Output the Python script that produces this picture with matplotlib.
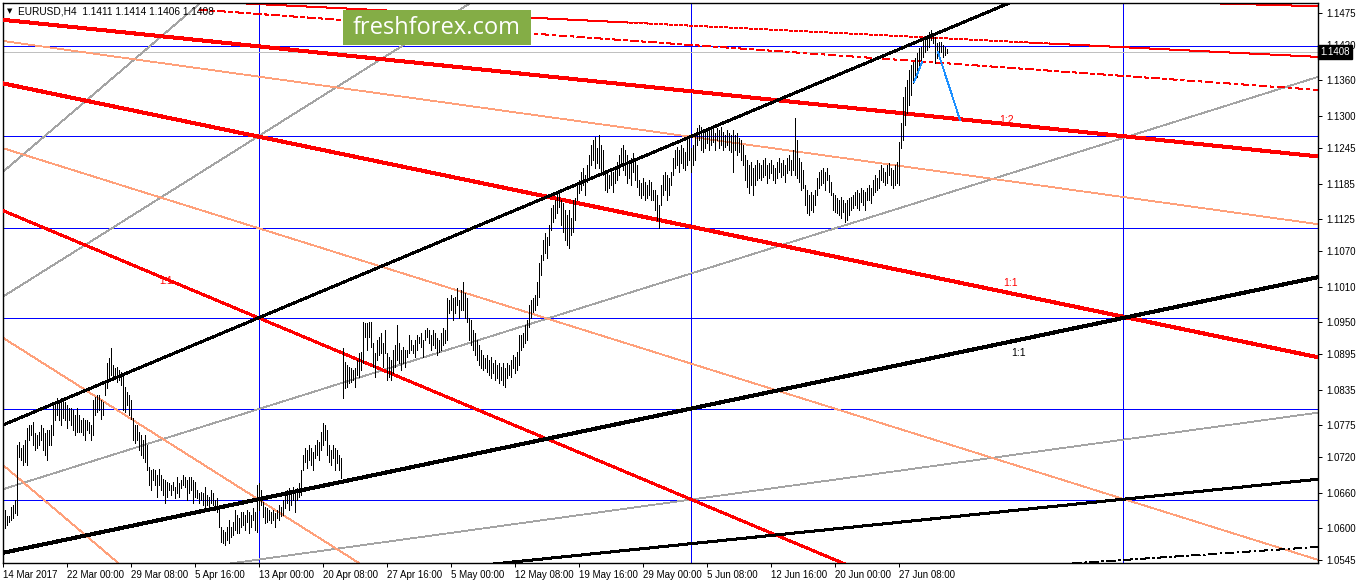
import numpy as np
import matplotlib
matplotlib.use("Agg")
import matplotlib.pyplot as plt
from matplotlib.patches import Rectangle

# EURUSD H4 bars, one value per bar (high / low)
highs = [
    1.0630, 1.0621, 1.0621, 1.0635, 1.0639, 1.0648, 1.0741, 1.0746, 1.0736, 1.0741,
    1.0750, 1.0770, 1.0775, 1.0775, 1.0780, 1.0762, 1.0758, 1.0763, 1.0775, 1.0770,
    1.0762, 1.0767, 1.0767, 1.0775, 1.0809, 1.0814, 1.0821, 1.0818, 1.0821, 1.0818,
    1.0814, 1.0809, 1.0804, 1.0804, 1.0801, 1.0792, 1.0804, 1.0792, 1.0784, 1.0787,
    1.0784, 1.0784, 1.0780, 1.0775, 1.0818, 1.0823, 1.0826, 1.0826, 1.0817, 1.0814,
    1.0848, 1.0880, 1.0888, 1.0905, 1.0877, 1.0872, 1.0874, 1.0868, 1.0865, 1.0860,
    1.0839, 1.0831, 1.0826, 1.0817, 1.0787, 1.0775, 1.0775, 1.0763, 1.0758, 1.0749,
    1.0758, 1.0741, 1.0704, 1.0698, 1.0701, 1.0698, 1.0690, 1.0701, 1.0690, 1.0684,
    1.0681, 1.0678, 1.0676, 1.0673, 1.0678, 1.0669, 1.0686, 1.0676, 1.0681, 1.0690,
    1.0686, 1.0681, 1.0686, 1.0686, 1.0681, 1.0678, 1.0664, 1.0659, 1.0661, 1.0659,
    1.0669, 1.0656, 1.0652, 1.0664, 1.0659, 1.0647, 1.0651, 1.0630, 1.0601, 1.0596,
    1.0593, 1.0601, 1.0613, 1.0601, 1.0610, 1.0630, 1.0622, 1.0617, 1.0627, 1.0627,
    1.0622, 1.0630, 1.0627, 1.0622, 1.0634, 1.0627, 1.0673, 1.0676, 1.0664, 1.0644,
    1.0635, 1.0634, 1.0630, 1.0627, 1.0630, 1.0625, 1.0630, 1.0639, 1.0635, 1.0647,
    1.0656, 1.0664, 1.0668, 1.0661, 1.0669, 1.0664, 1.0668, 1.0676, 1.0698, 1.0724,
    1.0736, 1.0733, 1.0741, 1.0736, 1.0729, 1.0741, 1.0749, 1.0746, 1.0763, 1.0778,
    1.0775, 1.0766, 1.0741, 1.0733, 1.0741, 1.0736, 1.0733, 1.0724, 1.0719, 1.0905,
    1.0882, 1.0877, 1.0874, 1.0872, 1.0868, 1.0872, 1.0885, 1.0897, 1.0899, 1.0950,
    1.0948, 1.0948, 1.0950, 1.0950, 1.0914, 1.0897, 1.0919, 1.0924, 1.0931, 1.0914,
    1.0936, 1.0897, 1.0890, 1.0885, 1.0902, 1.0911, 1.0945, 1.0914, 1.0902, 1.0907,
    1.0902, 1.0902, 1.0928, 1.0919, 1.0911, 1.0919, 1.0928, 1.0924, 1.0931, 1.0919,
    1.0936, 1.0940, 1.0936, 1.0928, 1.0936, 1.0931, 1.0923, 1.0919, 1.0931, 1.0940,
    1.0936, 1.0991, 1.0987, 1.0996, 1.0991, 1.0993, 1.1008, 1.0987, 1.1004, 1.1018,
    1.0999, 1.0991, 1.0957, 1.0953, 1.0936, 1.0931, 1.0919, 1.0911, 1.0902, 1.0894,
    1.0888, 1.0894, 1.0885, 1.0890, 1.0880, 1.0885, 1.0877, 1.0880, 1.0874, 1.0880,
    1.0872, 1.0880, 1.0877, 1.0885, 1.0894, 1.0890, 1.0899, 1.0928, 1.0928, 1.0931,
    1.0945, 1.0953, 1.0979, 1.0987, 1.0991, 1.0996, 1.1018, 1.1050, 1.1063, 1.1089,
    1.1101, 1.1094, 1.1114, 1.1143, 1.1148, 1.1157, 1.1169, 1.1170, 1.1157, 1.1152,
    1.1140, 1.1131, 1.1140, 1.1126, 1.1157, 1.1160, 1.1183, 1.1191, 1.1205, 1.1211,
    1.1200, 1.1217, 1.1234, 1.1251, 1.1259, 1.1264, 1.1245, 1.1267, 1.1251, 1.1242,
    1.1208, 1.1205, 1.1200, 1.1211, 1.1205, 1.1208, 1.1222, 1.1234, 1.1245, 1.1251,
    1.1242, 1.1234, 1.1225, 1.1228, 1.1237, 1.1225, 1.1217, 1.1191, 1.1186, 1.1194,
    1.1188, 1.1183, 1.1191, 1.1188, 1.1174, 1.1174, 1.1166, 1.1148, 1.1183, 1.1200,
    1.1205, 1.1200, 1.1194, 1.1205, 1.1228, 1.1242, 1.1247, 1.1242, 1.1251, 1.1245,
    1.1239, 1.1259, 1.1262, 1.1245, 1.1251, 1.1267, 1.1279, 1.1284, 1.1281, 1.1276,
    1.1273, 1.1279, 1.1276, 1.1276, 1.1281, 1.1271, 1.1279, 1.1276, 1.1281, 1.1273,
    1.1267, 1.1276, 1.1271, 1.1267, 1.1276, 1.1267, 1.1271, 1.1262, 1.1259, 1.1251,
    1.1234, 1.1225, 1.1217, 1.1222, 1.1211, 1.1217, 1.1225, 1.1220, 1.1217, 1.1225,
    1.1228, 1.1217, 1.1220, 1.1225, 1.1217, 1.1211, 1.1222, 1.1228, 1.1220, 1.1225,
    1.1217, 1.1228, 1.1234, 1.1225, 1.1242, 1.1296, 1.1259, 1.1228, 1.1222, 1.1208,
    1.1183, 1.1174, 1.1166, 1.1170, 1.1166, 1.1174, 1.1194, 1.1205, 1.1208, 1.1211,
    1.1205, 1.1211, 1.1200, 1.1188, 1.1169, 1.1166, 1.1160, 1.1157, 1.1162, 1.1157,
    1.1152, 1.1157, 1.1160, 1.1162, 1.1166, 1.1170, 1.1174, 1.1169, 1.1177, 1.1174,
    1.1170, 1.1177, 1.1183, 1.1177, 1.1191, 1.1200, 1.1194, 1.1208, 1.1217, 1.1211,
    1.1205, 1.1217, 1.1220, 1.1211, 1.1208, 1.1217, 1.1222, 1.1256, 1.1288, 1.1332,
    1.1349, 1.1361, 1.1378, 1.1386, 1.1392, 1.1398, 1.1407, 1.1415, 1.1417, 1.1429,
    1.1434, 1.1437, 1.1443, 1.1446, 1.1441, 1.1434, 1.1424, 1.1425, 1.1425, 1.1420,
    1.1417, 1.1414,
]
lows = [
    1.0600, 1.0605, 1.0610, 1.0613, 1.0617, 1.0626, 1.0622, 1.0721, 1.0716, 1.0707,
    1.0712, 1.0707, 1.0750, 1.0758, 1.0741, 1.0733, 1.0736, 1.0741, 1.0750, 1.0733,
    1.0724, 1.0716, 1.0741, 1.0741, 1.0758, 1.0784, 1.0792, 1.0784, 1.0775, 1.0787,
    1.0784, 1.0770, 1.0784, 1.0775, 1.0767, 1.0758, 1.0763, 1.0763, 1.0763, 1.0758,
    1.0750, 1.0767, 1.0762, 1.0750, 1.0758, 1.0792, 1.0797, 1.0801, 1.0786, 1.0792,
    1.0826, 1.0838, 1.0855, 1.0860, 1.0851, 1.0855, 1.0848, 1.0851, 1.0843, 1.0800,
    1.0797, 1.0809, 1.0792, 1.0786, 1.0749, 1.0745, 1.0749, 1.0732, 1.0724, 1.0719,
    1.0712, 1.0698, 1.0673, 1.0664, 1.0681, 1.0673, 1.0652, 1.0673, 1.0664, 1.0656,
    1.0643, 1.0653, 1.0664, 1.0656, 1.0664, 1.0651, 1.0659, 1.0653, 1.0668, 1.0673,
    1.0670, 1.0647, 1.0659, 1.0664, 1.0642, 1.0653, 1.0651, 1.0642, 1.0647, 1.0639,
    1.0630, 1.0639, 1.0634, 1.0642, 1.0639, 1.0630, 1.0627, 1.0601, 1.0576, 1.0574,
    1.0571, 1.0579, 1.0574, 1.0585, 1.0588, 1.0596, 1.0591, 1.0591, 1.0601, 1.0605,
    1.0596, 1.0610, 1.0591, 1.0601, 1.0613, 1.0596, 1.0593, 1.0630, 1.0639, 1.0619,
    1.0608, 1.0610, 1.0613, 1.0608, 1.0613, 1.0601, 1.0617, 1.0613, 1.0620, 1.0622,
    1.0634, 1.0642, 1.0630, 1.0639, 1.0647, 1.0627, 1.0647, 1.0653, 1.0656, 1.0698,
    1.0712, 1.0702, 1.0715, 1.0707, 1.0698, 1.0719, 1.0724, 1.0715, 1.0733, 1.0741,
    1.0749, 1.0724, 1.0712, 1.0707, 1.0719, 1.0698, 1.0710, 1.0698, 1.0685, 1.0820,
    1.0838, 1.0840, 1.0846, 1.0848, 1.0851, 1.0840, 1.0860, 1.0857, 1.0868, 1.0880,
    1.0924, 1.0902, 1.0924, 1.0907, 1.0874, 1.0857, 1.0885, 1.0894, 1.0897, 1.0874,
    1.0897, 1.0851, 1.0857, 1.0851, 1.0863, 1.0874, 1.0885, 1.0880, 1.0868, 1.0880,
    1.0874, 1.0890, 1.0897, 1.0902, 1.0897, 1.0890, 1.0902, 1.0914, 1.0907, 1.0890,
    1.0919, 1.0924, 1.0914, 1.0902, 1.0911, 1.0905, 1.0894, 1.0899, 1.0902, 1.0911,
    1.0914, 1.0919, 1.0965, 1.0970, 1.0953, 1.0965, 1.0979, 1.0957, 1.0970, 1.0970,
    1.0957, 1.0950, 1.0919, 1.0911, 1.0902, 1.0894, 1.0885, 1.0877, 1.0872, 1.0868,
    1.0872, 1.0865, 1.0860, 1.0855, 1.0863, 1.0851, 1.0855, 1.0846, 1.0851, 1.0843,
    1.0840, 1.0855, 1.0860, 1.0857, 1.0872, 1.0863, 1.0868, 1.0877, 1.0902, 1.0907,
    1.0914, 1.0919, 1.0941, 1.0957, 1.0967, 1.0970, 1.0979, 1.0993, 1.1029, 1.1055,
    1.1067, 1.1058, 1.1080, 1.1106, 1.1119, 1.1126, 1.1135, 1.1145, 1.1114, 1.1103,
    1.1089, 1.1080, 1.1075, 1.1097, 1.1103, 1.1123, 1.1157, 1.1169, 1.1174, 1.1183,
    1.1166, 1.1188, 1.1194, 1.1217, 1.1225, 1.1211, 1.1220, 1.1211, 1.1205, 1.1200,
    1.1174, 1.1171, 1.1177, 1.1183, 1.1171, 1.1186, 1.1191, 1.1200, 1.1217, 1.1208,
    1.1200, 1.1186, 1.1194, 1.1183, 1.1205, 1.1191, 1.1179, 1.1166, 1.1160, 1.1166,
    1.1157, 1.1160, 1.1166, 1.1157, 1.1157, 1.1140, 1.1123, 1.1109, 1.1148, 1.1166,
    1.1174, 1.1157, 1.1166, 1.1183, 1.1200, 1.1211, 1.1217, 1.1205, 1.1220, 1.1211,
    1.1208, 1.1217, 1.1225, 1.1205, 1.1217, 1.1225, 1.1251, 1.1259, 1.1242, 1.1239,
    1.1245, 1.1254, 1.1242, 1.1251, 1.1256, 1.1242, 1.1259, 1.1245, 1.1251, 1.1242,
    1.1247, 1.1251, 1.1242, 1.1239, 1.1205, 1.1242, 1.1234, 1.1239, 1.1225, 1.1217,
    1.1191, 1.1179, 1.1169, 1.1183, 1.1166, 1.1183, 1.1191, 1.1194, 1.1191, 1.1196,
    1.1200, 1.1186, 1.1194, 1.1203, 1.1191, 1.1186, 1.1194, 1.1205, 1.1196, 1.1200,
    1.1188, 1.1203, 1.1208, 1.1200, 1.1208, 1.1200, 1.1194, 1.1188, 1.1174, 1.1177,
    1.1148, 1.1135, 1.1131, 1.1140, 1.1137, 1.1148, 1.1166, 1.1177, 1.1183, 1.1186,
    1.1174, 1.1191, 1.1171, 1.1166, 1.1140, 1.1137, 1.1135, 1.1131, 1.1126, 1.1137,
    1.1119, 1.1123, 1.1131, 1.1140, 1.1143, 1.1148, 1.1143, 1.1140, 1.1154, 1.1148,
    1.1140, 1.1157, 1.1157, 1.1152, 1.1166, 1.1171, 1.1174, 1.1177, 1.1191, 1.1188,
    1.1183, 1.1186, 1.1200, 1.1183, 1.1177, 1.1183, 1.1186, 1.1183, 1.1245, 1.1259,
    1.1284, 1.1305, 1.1319, 1.1336, 1.1356, 1.1361, 1.1366, 1.1381, 1.1390, 1.1400,
    1.1408, 1.1412, 1.1417, 1.1429, 1.1424, 1.1390, 1.1398, 1.1407, 1.1409, 1.1400,
    1.1403, 1.1406,
]

# time axis: bar index of each label
tick_bars = [-1, 31, 63, 95, 127, 159, 191, 223, 255, 287, 319, 351, 383, 415, 447]
tick_labels = ["14 Mar 2017", "22 Mar 00:00", "29 Mar 08:00", "5 Apr 16:00",
               "13 Apr 00:00", "20 Apr 08:00", "27 Apr 16:00", "5 May 00:00",
               "12 May 08:00", "19 May 16:00", "29 May 00:00", "5 Jun 08:00",
               "12 Jun 16:00", "20 Jun 00:00", "27 Jun 08:00"]

# price axis labels
price_ticks = [1.1475, 1.1420, 1.1360, 1.1300, 1.1245, 1.1185, 1.1125, 1.1070,
               1.1010, 1.0950, 1.0895, 1.0835, 1.0775, 1.0720, 1.0660, 1.0600, 1.0545]

# blue horizontal levels and vertical time lines
levels = [1.1418, 1.1265, 1.1109, 1.0956, 1.0802, 1.0647]
time_lines = [127, 343.25, 559]
bid = 1.1408

# trend lines as (bar1, price1, bar2, price2)
red_thick = [(-1, 1.1463, 656.5, 1.1231), (-1, 1.1355, 656.5, 1.0890)]
red_mid = [(-1, 1.1139, 343.5, 1.0648)]
salmon = [(-1, 1.1427, 656.5, 1.1116), (-1, 1.1245, 656.5, 1.0546),
          (-1, 1.0923, 127, 1.0648), (-1, 1.0707, 56.5, 1.0541)]
gray = [(-1, 1.1205, 97.5, 1.1491), (-1, 1.0993, 232.5, 1.1491),
        (-1, 1.0666, 656.5, 1.1366), (115, 1.0541, 656.5, 1.0796)]
black_thick = [(-1, 1.0558, 656.5, 1.1026)]
black_mid = [(-1, 1.0775, 502.5, 1.1492), (250, 1.0541, 656.5, 1.0683)]
black_dashdot = [(538, 1.0541, 656.5, 1.0568)]
red_dot = [(112.5, 1.1492, 656.5, 1.1400)]
red_dashdot = [(97.5, 1.1480, 656.5, 1.1344)]
red_thin = [(572.5, 1.1494, 656.5, 1.1486)]
swing_bars = [[454.5, 458.5], [466.5, 477.5]]
swing_prices = [[1.1357, 1.1391], [1.1408, 1.1293]]

XL, XR = -1, 656.5
YB, YT = 1.05407, 1.14915
PX = 0.72  # one screen pixel in points
THIN = 0.6

plt.rcParams['lines.antialiased'] = False
fam = ['Liberation Sans', 'DejaVu Sans']

fig = plt.figure(figsize=(13.58, 5.84), dpi=100)
ax = fig.add_axes([3/1358, 21/584, 1315/1358, 560/584])


def draw(segs, both=True, **kw):
    for b1, p1, b2, p2 in segs:
        k = (p2 - p1) / (b2 - b1)
        xs = np.array([XL if both else b1, XR])
        ax.plot(xs, p1 + k*(xs - b1), solid_capstyle='butt', **kw)


for lv in levels:
    ax.axhline(lv, color='#0000ff', lw=THIN, zorder=1)
for t in time_lines:
    ax.axvline(t, color='#0000ff', lw=THIN, zorder=1)
ax.axhline(bid, color='#c0c0c0', lw=THIN, zorder=1)

draw(gray, color='#a4a4a4', lw=THIN, zorder=2)
draw(salmon, color='#ffa07a', lw=THIN, zorder=2)
draw(red_dot, both=False, color='#ff0000', lw=PX, dashes=(3, 2), zorder=2)
draw(red_dashdot, both=False, color='#ff0000', lw=PX, dashes=(8, 4, 3, 4), zorder=2)
draw(red_thin, both=False, color='#ff0000', lw=PX, zorder=2)
draw(black_dashdot, color='black', lw=PX, dashes=(9, 4, 2, 4), zorder=2)
draw(red_thick, color='#ff0000', lw=3*PX, zorder=3)
draw(red_mid, color='#ff0000', lw=2*PX, zorder=3)
draw(black_thick, color='black', lw=3*PX, zorder=3)
draw(black_mid, color='black', lw=2*PX, zorder=3)

# price bars
n = min(len(highs), len(lows))
ax.vlines(np.arange(n), lows[:n], highs[:n], color='black', lw=PX,
          antialiased=False, zorder=4)

for bx, py in zip(swing_bars, swing_prices):
    ax.plot(bx, py, color='#1e90ff', lw=THIN, zorder=5)

ax.text(80.5, 1.1020, "1:1", color='#ff0000', fontsize=7, family=fam,
        ha='center', va='center', zorder=6)
ax.text(501, 1.1293, "1:2", color='#ff0000', fontsize=7.5, family=fam,
        ha='center', va='center', zorder=6)
ax.text(503, 1.1016, "1:1", color='#ff0000', fontsize=7.5, family=fam,
        ha='center', va='center', zorder=6)
ax.text(507, 1.0897, "1:1", color='black', fontsize=7.5, family=fam,
        ha='center', va='center', zorder=6)

ax.set_xlim(XL, XR)
ax.set_ylim(YB, YT)

ax.set_xticks(tick_bars)
ax.set_xticklabels(tick_labels, family=fam, fontsize=7)
plt.setp(ax.get_xticklabels(), ha='left')
ax.tick_params(axis='x', direction='out', length=3, width=PX, pad=2)

ax.yaxis.tick_right()
ax.set_yticks(price_ticks)
ax.set_yticklabels(["%.4f" % p for p in price_ticks], family=fam, fontsize=7)
ax.tick_params(axis='y', direction='out', length=3, width=PX, pad=3)

for s in ax.spines.values():
    s.set_color('black')
    s.set_linewidth(1.0)

# current bid label on the price scale
ax.text(1.0015, bid, "1.1408", transform=ax.get_yaxis_transform(),
        ha='left', va='center', color='white', fontsize=7, family=fam,
        bbox=dict(facecolor='black', edgecolor='black', pad=1.6),
        clip_on=False, zorder=10)

# header
fig.text(7/1358, 1 - 11/584, "\u25bc", fontsize=5, color='black',
         va='center', ha='left', family='DejaVu Sans')
fig.text(18/1358, 1 - 11/584, "EURUSD,H4  1.1411 1.1414 1.1406 1.1408",
         fontsize=7.3, color='black', va='center', ha='left', family=fam)

# watermark
fig.add_artist(Rectangle((343/1358, 1 - 45/584), 188/1358, 35/584,
                         transform=fig.transFigure, facecolor='#84ad46',
                         edgecolor='none', zorder=20))
fig.text(437/1358, 1 - 28/584, "freshforex.com", color='white', fontsize=17,
         family=['Open Sans', 'DejaVu Sans'], ha='center', va='center', zorder=21)

fig.savefig("out.png", dpi=100, facecolor='white')
